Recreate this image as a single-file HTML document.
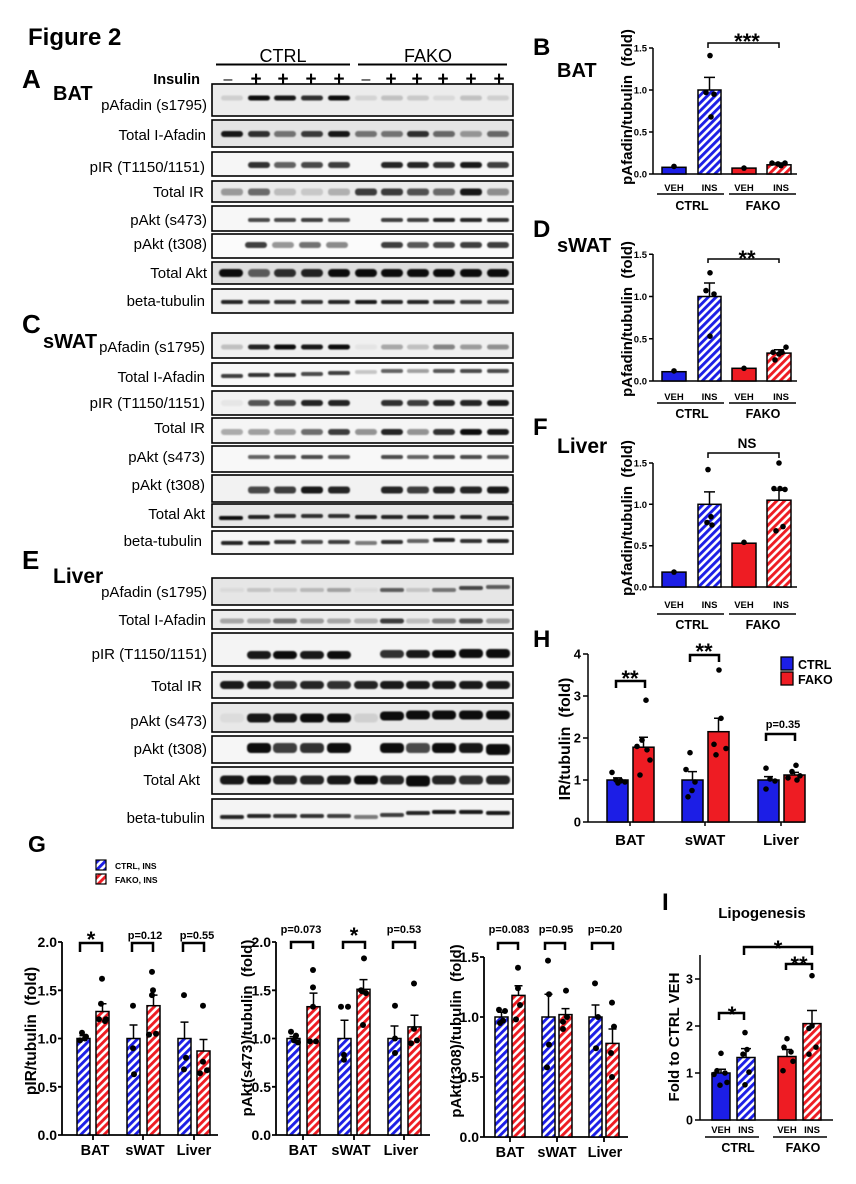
<!DOCTYPE html>
<html><head><meta charset="utf-8"><style>
html,body{margin:0;padding:0;background:#fff}
svg{display:block}
text{font-family:"Liberation Sans",Arial,sans-serif}
.b{font-weight:bold}
.l{font-size:15px;text-anchor:end}
.m{text-anchor:middle}
.e{text-anchor:end}
</style></head><body>
<svg width="856" height="1184" viewBox="0 0 856 1184" xmlns="http://www.w3.org/2000/svg">
<defs>
<pattern id="hb" patternUnits="userSpaceOnUse" width="5.5" height="5.5" patternTransform="rotate(45)"><rect width="5.5" height="5.5" fill="#fff"/><rect width="2.9" height="5.5" fill="#1c1ee6"/></pattern>
<pattern id="hr" patternUnits="userSpaceOnUse" width="5.5" height="5.5" patternTransform="rotate(45)"><rect width="5.5" height="5.5" fill="#fff"/><rect width="2.9" height="5.5" fill="#ee1c23"/></pattern>
<filter id="bl" x="-20%" y="-100%" width="140%" height="300%"><feGaussianBlur stdDeviation="0.9"/></filter>
</defs>
<rect width="856" height="1184" fill="#fff"/>

<!-- Header -->
<text x="28" y="45" class="b" font-size="24">Figure 2</text>
<text x="283" y="62" class="m" font-size="18">CTRL</text>
<text x="428" y="62" class="m" font-size="18">FAKO</text>
<path d="M216 64.5H350M358 64.5H507" stroke="#000" stroke-width="2"/>
<text x="200" y="84" class="b e" font-size="14.5">Insulin</text>
<g class="b m" font-size="19">
<text x="256" y="85">+</text><text x="283" y="85">+</text><text x="311" y="85">+</text><text x="339" y="85">+</text>
<text x="391" y="85">+</text><text x="417" y="85">+</text><text x="443" y="85">+</text><text x="471" y="85">+</text><text x="499" y="85">+</text>
</g>
<g class="m" font-size="16"><text x="228" y="84">–</text><text x="366" y="84">–</text></g>

<text x="22" y="88" class="b" font-size="26">A</text>
<text x="53" y="100" class="b" font-size="20">BAT</text>
<text x="22" y="333" class="b" font-size="26">C</text>
<text x="43" y="348" class="b" font-size="20">sWAT</text>
<text x="22" y="569" class="b" font-size="26">E</text>
<text x="53" y="583" class="b" font-size="21">Liver</text>

<!-- Blot boxes -->
<g stroke="#000" stroke-width="1.6">
<rect x="212" y="84" width="301" height="32" fill="#ececec"/>
<rect x="212" y="120" width="301" height="27" fill="#e4e4e4"/>
<rect x="212" y="152" width="301" height="24" fill="#f6f6f6"/>
<rect x="212" y="181" width="301" height="21" fill="#ebebeb"/>
<rect x="212" y="206" width="301" height="25" fill="#f7f7f7"/>
<rect x="212" y="234" width="301" height="24" fill="#fbfbfb"/>
<rect x="212" y="262" width="301" height="22" fill="#dedede"/>
<rect x="212" y="289" width="301" height="24" fill="#f2f2f2"/>

<rect x="212" y="333" width="301" height="25" fill="#f0f0f0"/>
<rect x="212" y="363" width="301" height="23" fill="#f8f8f8"/>
<rect x="212" y="391" width="301" height="24" fill="#f2f2f2"/>
<rect x="212" y="418" width="301" height="25" fill="#f5f5f5"/>
<rect x="212" y="446" width="301" height="26" fill="#f8f8f8"/>
<rect x="212" y="475" width="301" height="27" fill="#f2f2f2"/>
<rect x="212" y="504" width="301" height="23" fill="#e8e8e8"/>
<rect x="212" y="531" width="301" height="23" fill="#f6f6f6"/>

<rect x="212" y="578" width="301" height="27" fill="#e6e6e6"/>
<rect x="212" y="610" width="301" height="19" fill="#ececec"/>
<rect x="212" y="633" width="301" height="33" fill="#f4f4f4"/>
<rect x="212" y="672" width="301" height="26" fill="#f2f2f2"/>
<rect x="212" y="703" width="301" height="29" fill="#e8e8e8"/>
<rect x="212" y="736" width="301" height="27" fill="#f6f6f6"/>
<rect x="212" y="767" width="301" height="27" fill="#f2f2f2"/>
<rect x="212" y="799" width="301" height="29" fill="#f4f4f4"/>
</g>

<!-- Bands -->
<g fill="#000" filter="url(#bl)">
<g transform="translate(0,95.5)">
<rect x="221" width="22" height="5" rx="2.5" opacity=".12"/><rect x="248" width="22" height="5" rx="2.5" opacity=".95"/><rect x="274" width="22" height="5" rx="2.5" opacity=".9"/><rect x="301" width="22" height="5" rx="2.5" opacity=".8"/><rect x="328" width="22" height="5" rx="2.5" opacity=".95"/><rect x="355" width="22" height="5" rx="2.5" opacity=".1"/><rect x="381" width="22" height="5" rx="2.5" opacity=".18"/><rect x="407" width="22" height="5" rx="2.5" opacity=".15"/><rect x="433" width="22" height="5" rx="2.5" opacity=".08"/><rect x="460" width="22" height="5" rx="2.5" opacity=".18"/><rect x="487" width="22" height="5" rx="2.5" opacity=".12"/></g>
<g transform="translate(0,131)">
<rect x="221" width="22" height="6" rx="3" opacity=".9"/><rect x="248" width="22" height="6" rx="3" opacity=".8"/><rect x="274" width="22" height="6" rx="3" opacity=".5"/><rect x="301" width="22" height="6" rx="3" opacity=".75"/><rect x="328" width="22" height="6" rx="3" opacity=".9"/><rect x="355" width="22" height="6" rx="3" opacity=".5"/><rect x="381" width="22" height="6" rx="3" opacity=".5"/><rect x="407" width="22" height="6" rx="3" opacity=".8"/><rect x="433" width="22" height="6" rx="3" opacity=".55"/><rect x="460" width="22" height="6" rx="3" opacity=".35"/><rect x="487" width="22" height="6" rx="3" opacity=".55"/></g>
<g transform="translate(0,162)">
<rect x="248" width="22" height="6" rx="3" opacity=".8"/><rect x="274" width="22" height="6" rx="3" opacity=".6"/><rect x="301" width="22" height="6" rx="3" opacity=".7"/><rect x="328" width="22" height="6" rx="3" opacity=".75"/><rect x="381" width="22" height="6" rx="3" opacity=".85"/><rect x="407" width="22" height="6" rx="3" opacity=".85"/><rect x="433" width="22" height="6" rx="3" opacity=".8"/><rect x="460" width="22" height="6" rx="3" opacity=".9"/><rect x="487" width="22" height="6" rx="3" opacity=".75"/></g>
<g transform="translate(0,188.5)">
<rect x="221" width="22" height="7" rx="3" opacity=".35"/><rect x="248" width="22" height="7" rx="3" opacity=".55"/><rect x="274" width="22" height="7" rx="3" opacity=".2"/><rect x="301" width="22" height="7" rx="3" opacity=".15"/><rect x="328" width="22" height="7" rx="3" opacity=".25"/><rect x="355" width="22" height="7" rx="3" opacity=".75"/><rect x="381" width="22" height="7" rx="3" opacity=".75"/><rect x="407" width="22" height="7" rx="3" opacity=".65"/><rect x="433" width="22" height="7" rx="3" opacity=".55"/><rect x="460" width="22" height="7" rx="3" opacity=".9"/><rect x="487" width="22" height="7" rx="3" opacity=".4"/></g>
<g transform="translate(0,218)">
<rect x="248" width="22" height="4" rx="2" opacity=".7"/><rect x="274" width="22" height="4" rx="2" opacity=".7"/><rect x="301" width="22" height="4" rx="2" opacity=".75"/><rect x="328" width="22" height="4" rx="2" opacity=".65"/><rect x="381" width="22" height="4" rx="2" opacity=".75"/><rect x="407" width="22" height="4" rx="2" opacity=".75"/><rect x="433" width="22" height="4" rx="2" opacity=".85"/><rect x="460" width="22" height="4" rx="2" opacity=".85"/><rect x="487" width="22" height="4" rx="2" opacity=".8"/></g>
<g transform="translate(0,242)">
<rect x="245" width="22" height="6" rx="3" opacity=".75"/><rect x="272" width="22" height="6" rx="3" opacity=".4"/><rect x="299" width="22" height="6" rx="3" opacity=".55"/><rect x="326" width="22" height="6" rx="3" opacity=".45"/><rect x="381" width="22" height="6" rx="3" opacity=".75"/><rect x="407" width="22" height="6" rx="3" opacity=".65"/><rect x="433" width="22" height="6" rx="3" opacity=".7"/><rect x="460" width="22" height="6" rx="3" opacity=".75"/><rect x="487" width="22" height="6" rx="3" opacity=".75"/></g>
<g transform="translate(0,269)">
<rect x="219" width="24" height="8" rx="4" opacity=".95"/><rect x="248" width="22" height="8" rx="4" opacity=".6"/><rect x="274" width="22" height="8" rx="4" opacity=".8"/><rect x="301" width="22" height="8" rx="4" opacity=".85"/><rect x="328" width="22" height="8" rx="4" opacity=".95"/><rect x="355" width="22" height="8" rx="4" opacity=".95"/><rect x="381" width="22" height="8" rx="4" opacity=".95"/><rect x="407" width="22" height="8" rx="4" opacity=".95"/><rect x="433" width="22" height="8" rx="4" opacity=".95"/><rect x="460" width="22" height="8" rx="4" opacity=".95"/><rect x="487" width="22" height="8" rx="4" opacity=".95"/></g>
<g transform="translate(0,300)">
<rect x="221" width="22" height="4" rx="2" opacity=".85"/><rect x="248" width="22" height="4" rx="2" opacity=".8"/><rect x="274" width="22" height="4" rx="2" opacity=".8"/><rect x="301" width="22" height="4" rx="2" opacity=".8"/><rect x="328" width="22" height="4" rx="2" opacity=".85"/><rect x="355" width="22" height="4" rx="2" opacity=".9"/><rect x="381" width="22" height="4" rx="2" opacity=".85"/><rect x="407" width="22" height="4" rx="2" opacity=".85"/><rect x="433" width="22" height="4" rx="2" opacity=".8"/><rect x="460" width="22" height="4" rx="2" opacity=".75"/><rect x="487" width="22" height="4" rx="2" opacity=".7"/></g>

<g transform="translate(0,344.5)">
<rect x="221" width="22" height="5" rx="2.5" opacity=".2"/><rect x="248" width="22" height="5" rx="2.5" opacity=".85"/><rect x="274" width="22" height="5" rx="2.5" opacity=".95"/><rect x="301" width="22" height="5" rx="2.5" opacity=".9"/><rect x="328" width="22" height="5" rx="2.5" opacity=".95"/><rect x="355" width="22" height="5" rx="2.5" opacity=".05"/><rect x="381" width="22" height="5" rx="2.5" opacity=".3"/><rect x="407" width="22" height="5" rx="2.5" opacity=".2"/><rect x="433" width="22" height="5" rx="2.5" opacity=".45"/><rect x="460" width="22" height="5" rx="2.5" opacity=".35"/><rect x="487" width="22" height="5" rx="2.5" opacity=".4"/></g>
<g transform="translate(0,372)">
<rect x="221" width="22" height="4" rx="2" opacity=".75" y="2"/><rect x="248" width="22" height="4" rx="2" opacity=".8" y="1"/><rect x="274" width="22" height="4" rx="2" opacity=".8" y="1"/><rect x="301" width="22" height="4" rx="2" opacity=".7"/><rect x="328" width="22" height="4" rx="2" opacity=".75" y="-1"/><rect x="355" width="22" height="4" rx="2" opacity=".2" y="-2"/><rect x="381" width="22" height="4" rx="2" opacity=".6" y="-3"/><rect x="407" width="22" height="4" rx="2" opacity=".35" y="-3"/><rect x="433" width="22" height="4" rx="2" opacity=".65" y="-3"/><rect x="460" width="22" height="4" rx="2" opacity=".7" y="-3"/><rect x="487" width="22" height="4" rx="2" opacity=".7" y="-3"/></g>
<g transform="translate(0,400)">
<rect x="221" width="22" height="6" rx="3" opacity=".05"/><rect x="248" width="22" height="6" rx="3" opacity=".65"/><rect x="274" width="22" height="6" rx="3" opacity=".7"/><rect x="301" width="22" height="6" rx="3" opacity=".85"/><rect x="328" width="22" height="6" rx="3" opacity=".85"/><rect x="381" width="22" height="6" rx="3" opacity=".8"/><rect x="407" width="22" height="6" rx="3" opacity=".75"/><rect x="433" width="22" height="6" rx="3" opacity=".85"/><rect x="460" width="22" height="6" rx="3" opacity=".85"/><rect x="487" width="22" height="6" rx="3" opacity=".9"/></g>
<g transform="translate(0,429)">
<rect x="221" width="22" height="6" rx="3" opacity=".3"/><rect x="248" width="22" height="6" rx="3" opacity=".35"/><rect x="274" width="22" height="6" rx="3" opacity=".35"/><rect x="301" width="22" height="6" rx="3" opacity=".55"/><rect x="328" width="22" height="6" rx="3" opacity=".75"/><rect x="355" width="22" height="6" rx="3" opacity=".4"/><rect x="381" width="22" height="6" rx="3" opacity=".85"/><rect x="407" width="22" height="6" rx="3" opacity=".4"/><rect x="433" width="22" height="6" rx="3" opacity=".8"/><rect x="460" width="22" height="6" rx="3" opacity=".95"/><rect x="487" width="22" height="6" rx="3" opacity=".9"/></g>
<g transform="translate(0,455)">
<rect x="248" width="22" height="4" rx="2" opacity=".6"/><rect x="274" width="22" height="4" rx="2" opacity=".65"/><rect x="301" width="22" height="4" rx="2" opacity=".7"/><rect x="328" width="22" height="4" rx="2" opacity=".65"/><rect x="381" width="22" height="4" rx="2" opacity=".7"/><rect x="407" width="22" height="4" rx="2" opacity=".6"/><rect x="433" width="22" height="4" rx="2" opacity=".7"/><rect x="460" width="22" height="4" rx="2" opacity=".7"/><rect x="487" width="22" height="4" rx="2" opacity=".65"/></g>
<g transform="translate(0,486.5)">
<rect x="248" width="22" height="7" rx="3" opacity=".7"/><rect x="274" width="22" height="7" rx="3" opacity=".75"/><rect x="301" width="22" height="7" rx="3" opacity=".9"/><rect x="328" width="22" height="7" rx="3" opacity=".85"/><rect x="381" width="22" height="7" rx="3" opacity=".85"/><rect x="407" width="22" height="7" rx="3" opacity=".75"/><rect x="433" width="22" height="7" rx="3" opacity=".85"/><rect x="460" width="22" height="7" rx="3" opacity=".85"/><rect x="487" width="22" height="7" rx="3" opacity=".9"/></g>
<g transform="translate(0,515)">
<rect x="219" width="24" height="4" rx="2" opacity=".95" y="1"/><rect x="248" width="22" height="4" rx="2" opacity=".85"/><rect x="274" width="22" height="4" rx="2" opacity=".8" y="-1"/><rect x="301" width="22" height="4" rx="2" opacity=".8" y="-1"/><rect x="328" width="22" height="4" rx="2" opacity=".8" y="-1"/><rect x="355" width="22" height="4" rx="2" opacity=".85"/><rect x="381" width="22" height="4" rx="2" opacity=".85"/><rect x="407" width="22" height="4" rx="2" opacity=".85"/><rect x="433" width="22" height="4" rx="2" opacity=".85"/><rect x="460" width="22" height="4" rx="2" opacity=".85"/><rect x="487" width="22" height="4" rx="2" opacity=".85" y="1"/></g>
<g transform="translate(0,540)">
<rect x="221" width="22" height="4" rx="2" opacity=".85" y="1"/><rect x="248" width="22" height="4" rx="2" opacity=".85" y="1"/><rect x="274" width="22" height="4" rx="2" opacity=".8"/><rect x="301" width="22" height="4" rx="2" opacity=".7"/><rect x="328" width="22" height="4" rx="2" opacity=".75"/><rect x="355" width="22" height="4" rx="2" opacity=".5" y="1"/><rect x="381" width="22" height="4" rx="2" opacity=".8"/><rect x="407" width="22" height="4" rx="2" opacity=".6" y="-1"/><rect x="433" width="22" height="4" rx="2" opacity=".85" y="-2"/><rect x="460" width="22" height="4" rx="2" opacity=".8" y="-1"/><rect x="487" width="22" height="4" rx="2" opacity=".85" y="-1"/></g>

<g transform="translate(0,588)">
<rect x="220" width="24" height="4" rx="2" opacity=".05"/><rect x="247" width="24" height="4" rx="2" opacity=".15"/><rect x="273" width="24" height="4" rx="2" opacity=".12"/><rect x="300" width="24" height="4" rx="2" opacity=".2"/><rect x="327" width="24" height="4" rx="2" opacity=".3"/><rect x="354" width="24" height="4" rx="2" opacity=".05"/><rect x="380" width="24" height="4" rx="2" opacity=".6"/><rect x="406" width="24" height="4" rx="2" opacity=".15"/><rect x="432" width="24" height="4" rx="2" opacity=".5"/><rect x="459" width="24" height="4" rx="2" opacity=".7" y="-2"/><rect x="486" width="24" height="4" rx="2" opacity=".6" y="-3"/></g>
<g transform="translate(0,618.5)">
<rect x="220" width="24" height="5" rx="2.5" opacity=".3"/><rect x="247" width="24" height="5" rx="2.5" opacity=".3"/><rect x="273" width="24" height="5" rx="2.5" opacity=".5"/><rect x="300" width="24" height="5" rx="2.5" opacity=".35"/><rect x="327" width="24" height="5" rx="2.5" opacity=".3"/><rect x="354" width="24" height="5" rx="2.5" opacity=".25"/><rect x="380" width="24" height="5" rx="2.5" opacity=".75"/><rect x="406" width="24" height="5" rx="2.5" opacity=".2"/><rect x="432" width="24" height="5" rx="2.5" opacity=".45"/><rect x="459" width="24" height="5" rx="2.5" opacity=".65"/><rect x="486" width="24" height="5" rx="2.5" opacity=".35"/></g>
<g transform="translate(0,651)">
<rect x="247" width="24" height="8" rx="4" opacity=".9"/><rect x="273" width="24" height="8" rx="4" opacity=".95"/><rect x="300" width="24" height="8" rx="4" opacity=".9"/><rect x="327" width="24" height="8" rx="4" opacity=".95"/><rect x="380" width="24" height="8" rx="4" opacity=".8" y="-1"/><rect x="406" width="24" height="8" rx="4" opacity=".9" y="-1"/><rect x="432" width="24" height="8" rx="4" opacity=".95" y="-1"/><rect x="459" width="24" height="9" rx="4" opacity=".95" y="-2"/><rect x="486" width="24" height="9" rx="4" opacity=".95" y="-2"/></g>
<g transform="translate(0,681)">
<rect x="220" width="24" height="8" rx="4" opacity=".9"/><rect x="247" width="24" height="8" rx="4" opacity=".9"/><rect x="273" width="24" height="8" rx="4" opacity=".8"/><rect x="300" width="24" height="8" rx="4" opacity=".85"/><rect x="327" width="24" height="8" rx="4" opacity=".8"/><rect x="354" width="24" height="8" rx="4" opacity=".85"/><rect x="380" width="24" height="8" rx="4" opacity=".9"/><rect x="406" width="24" height="8" rx="4" opacity=".9"/><rect x="432" width="24" height="8" rx="4" opacity=".9"/><rect x="459" width="24" height="8" rx="4" opacity=".9"/><rect x="486" width="24" height="8" rx="4" opacity=".9"/></g>
<g transform="translate(0,713.5)">
<rect x="220" width="24" height="9" rx="4" opacity=".05"/><rect x="247" width="24" height="9" rx="4" opacity=".9"/><rect x="273" width="24" height="9" rx="4" opacity=".9"/><rect x="300" width="24" height="9" rx="4" opacity=".95"/><rect x="327" width="24" height="9" rx="4" opacity=".95"/><rect x="354" width="24" height="9" rx="4" opacity=".1"/><rect x="380" width="24" height="9" rx="4" opacity=".95" y="-2"/><rect x="406" width="24" height="9" rx="4" opacity=".95" y="-3"/><rect x="432" width="24" height="9" rx="4" opacity=".95" y="-3"/><rect x="459" width="24" height="9" rx="4" opacity=".95" y="-3"/><rect x="486" width="24" height="9" rx="4" opacity=".95" y="-3"/></g>
<g transform="translate(0,743)">
<rect x="247" width="24" height="10" rx="4" opacity=".95"/><rect x="273" width="24" height="10" rx="4" opacity=".75"/><rect x="300" width="24" height="10" rx="4" opacity=".8"/><rect x="327" width="24" height="10" rx="4" opacity=".95"/><rect x="380" width="24" height="10" rx="4" opacity=".95"/><rect x="406" width="24" height="10" rx="4" opacity=".7"/><rect x="432" width="24" height="10" rx="4" opacity=".95"/><rect x="459" width="24" height="10" rx="4" opacity=".9"/><rect x="486" width="24" height="11" rx="4" opacity=".95" y="1"/></g>
<g transform="translate(0,775.5)">
<rect x="220" width="24" height="9" rx="4" opacity=".9"/><rect x="247" width="24" height="9" rx="4" opacity=".95"/><rect x="273" width="24" height="9" rx="4" opacity=".85"/><rect x="300" width="24" height="9" rx="4" opacity=".85"/><rect x="327" width="24" height="9" rx="4" opacity=".9"/><rect x="354" width="24" height="9" rx="4" opacity=".95"/><rect x="380" width="24" height="9" rx="4" opacity=".85"/><rect x="406" width="24" height="11" rx="4" opacity=".95"/><rect x="432" width="24" height="9" rx="4" opacity=".85"/><rect x="459" width="24" height="9" rx="4" opacity=".8"/><rect x="486" width="24" height="9" rx="4" opacity=".85"/></g>
<g transform="translate(0,813)">
<rect x="220" width="24" height="4" rx="2" opacity=".85" y="2"/><rect x="247" width="24" height="4" rx="2" opacity=".85" y="1"/><rect x="273" width="24" height="4" rx="2" opacity=".8" y="1"/><rect x="300" width="24" height="4" rx="2" opacity=".8" y="1"/><rect x="327" width="24" height="4" rx="2" opacity=".75" y="1"/><rect x="354" width="24" height="4" rx="2" opacity=".5" y="2"/><rect x="380" width="24" height="4" rx="2" opacity=".75"/><rect x="406" width="24" height="4" rx="2" opacity=".85" y="-2"/><rect x="432" width="24" height="4" rx="2" opacity=".9" y="-3"/><rect x="459" width="24" height="4" rx="2" opacity=".9" y="-3"/><rect x="486" width="24" height="4" rx="2" opacity=".9" y="-2"/></g>
</g>

<!-- Blot labels -->
<g class="l">
<text x="207" y="110">pAfadin (s1795)</text>
<text x="206" y="140">Total I-Afadin</text>
<text x="205" y="172">pIR (T1150/1151)</text>
<text x="204" y="197">Total IR</text>
<text x="207" y="225">pAkt (s473)</text>
<text x="207" y="249">pAkt (t308)</text>
<text x="207" y="278">Total Akt</text>
<text x="205" y="306">beta-tubulin</text>

<text x="205" y="352">pAfadin (s1795)</text>
<text x="205" y="382">Total I-Afadin</text>
<text x="205" y="408">pIR (T1150/1151)</text>
<text x="205" y="433">Total IR</text>
<text x="205" y="462">pAkt (s473)</text>
<text x="205" y="490">pAkt (t308)</text>
<text x="205" y="519">Total Akt</text>
<text x="202" y="546">beta-tubulin</text>

<text x="207" y="597">pAfadin (s1795)</text>
<text x="206" y="625">Total I-Afadin</text>
<text x="207" y="659">pIR (T1150/1151)</text>
<text x="202" y="691">Total IR</text>
<text x="207" y="726">pAkt (s473)</text>
<text x="207" y="754">pAkt (t308)</text>
<text x="200" y="785">Total Akt</text>
<text x="205" y="823">beta-tubulin</text>
</g>

<!-- ===== Panel B ===== -->
<text x="533" y="55" class="b" font-size="24">B</text>
<text x="557" y="77" class="b" font-size="20">BAT</text>
<text transform="translate(632,107) rotate(-90)" class="b m" font-size="15">pAfadin/tubulin&#160;&#160;(fold)</text>
<g stroke="#000" stroke-width="1.5" fill="none">
<path d="M653 48V174H797M649 48H653M649 90H653M649 132H653M649 174H653"/>
</g>
<g class="b e" font-size="9.5"><text x="647" y="51.5">1.5</text><text x="647" y="93.5">1.0</text><text x="647" y="135.5">0.5</text><text x="647" y="177.5">0.0</text></g>
<g stroke="#000" stroke-width="1.5">
<rect x="662" y="167.3" width="24" height="6.7" fill="#1c1ee6"/>
<rect x="698" y="90" width="23" height="84" fill="url(#hb)"/>
<rect x="732" y="168.1" width="24" height="5.9" fill="#ee1c23"/>
<rect x="767" y="164.8" width="24" height="9.2" fill="url(#hr)"/>
<path d="M709.5 90V77.4M704 77.4H715M779 164.8V163M774 163H784" fill="none"/>
<path d="M708 48V43H779V48" fill="none"/>
<path d="M657 194H724M729 194H796" fill="none"/>
</g>
<g fill="#000"><circle cx="674" cy="166.4" r="2.8"/><circle cx="710" cy="55.6" r="2.8"/><circle cx="706" cy="92.5" r="2.8"/><circle cx="714" cy="94.2" r="2.8"/><circle cx="711" cy="116.9" r="2.8"/><circle cx="744" cy="168.1" r="2.8"/><circle cx="772" cy="163.1" r="2.8"/><circle cx="778" cy="163.9" r="2.8"/><circle cx="785" cy="163.1" r="2.8"/><circle cx="781" cy="165.6" r="2.8"/></g>
<text x="747" y="49" class="b m" font-size="22">***</text>
<g class="b m" font-size="9.5"><text x="674" y="191">VEH</text><text x="709.5" y="191">INS</text><text x="744" y="191">VEH</text><text x="781" y="191">INS</text></g>
<g class="b m" font-size="12.5"><text x="692" y="210">CTRL</text><text x="763" y="210">FAKO</text></g>

<!-- ===== Panel D ===== -->
<text x="533" y="237" class="b" font-size="24">D</text>
<text x="557" y="252" class="b" font-size="20">sWAT</text>
<text transform="translate(632,319) rotate(-90)" class="b m" font-size="15">pAfadin/tubulin&#160;&#160;(fold)</text>
<g stroke="#000" stroke-width="1.5" fill="none">
<path d="M653 254V381H797M649 254.3H653M649 296.5H653M649 338.8H653M649 381H653"/>
</g>
<g class="b e" font-size="9.5"><text x="647" y="257.8">1.5</text><text x="647" y="300">1.0</text><text x="647" y="342.3">0.5</text><text x="647" y="384.5">0.0</text></g>
<g stroke="#000" stroke-width="1.5">
<rect x="662" y="371.7" width="24" height="9.3" fill="#1c1ee6"/>
<rect x="698" y="296.5" width="23" height="84.5" fill="url(#hb)"/>
<rect x="732" y="368.3" width="24" height="12.7" fill="#ee1c23"/>
<rect x="767" y="353.1" width="24" height="27.9" fill="url(#hr)"/>
<path d="M709.5 296.5V283M704 283H715M779 353.1V349.7M774 349.7H784" fill="none"/>
<path d="M708 263V259H779V263" fill="none"/>
<path d="M657 403H724M729 403H796" fill="none"/>
</g>
<g fill="#000"><circle cx="674" cy="370.9" r="2.8"/><circle cx="710" cy="272.8" r="2.8"/><circle cx="706" cy="290.6" r="2.8"/><circle cx="714" cy="294" r="2.8"/><circle cx="710" cy="336.2" r="2.8"/><circle cx="744" cy="368.3" r="2.8"/><circle cx="773" cy="352.3" r="2.8"/><circle cx="779" cy="354" r="2.8"/><circle cx="786" cy="347.2" r="2.8"/><circle cx="775" cy="359.9" r="2.8"/><circle cx="782" cy="352.3" r="2.8"/></g>
<text x="747" y="266" class="b m" font-size="22">**</text>
<g class="b m" font-size="9.5"><text x="674" y="400">VEH</text><text x="709.5" y="400">INS</text><text x="744" y="400">VEH</text><text x="781" y="400">INS</text></g>
<g class="b m" font-size="12.5"><text x="692" y="418">CTRL</text><text x="763" y="418">FAKO</text></g>

<!-- ===== Panel F ===== -->
<text x="533" y="435" class="b" font-size="24">F</text>
<text x="557" y="453" class="b" font-size="21">Liver</text>
<text transform="translate(632,518) rotate(-90)" class="b m" font-size="15">pAfadin/tubulin&#160;&#160;(fold)</text>
<g stroke="#000" stroke-width="1.5" fill="none">
<path d="M653 463V587H797M649 463H653M649 504.3H653M649 545.7H653M649 587H653"/>
</g>
<g class="b e" font-size="9.5"><text x="647" y="466.5">1.5</text><text x="647" y="507.8">1.0</text><text x="647" y="549.2">0.5</text><text x="647" y="590.5">0.0</text></g>
<g stroke="#000" stroke-width="1.5">
<rect x="662" y="572.1" width="24" height="14.9" fill="#1c1ee6"/>
<rect x="698" y="504.3" width="23" height="82.7" fill="url(#hb)"/>
<rect x="732" y="543.2" width="24" height="43.8" fill="#ee1c23"/>
<rect x="767" y="500.2" width="24" height="86.8" fill="url(#hr)"/>
<path d="M709.5 504.3V491.9M704 491.9H715M779 500.2V490.2M774 490.2H784" fill="none"/>
<path d="M708 458V453H779V458" fill="none"/>
<path d="M657 614H724M729 614H796" fill="none"/>
</g>
<g fill="#000"><circle cx="674" cy="572.1" r="2.8"/><circle cx="708" cy="469.6" r="2.8"/><circle cx="711" cy="516.7" r="2.8"/><circle cx="707" cy="522.5" r="2.8"/><circle cx="712" cy="525" r="2.8"/><circle cx="744" cy="542.3" r="2.8"/><circle cx="779" cy="463" r="2.8"/><circle cx="774" cy="488.6" r="2.8"/><circle cx="780" cy="488.6" r="2.8"/><circle cx="785" cy="489.4" r="2.8"/><circle cx="776" cy="530.8" r="2.8"/><circle cx="783" cy="526.6" r="2.8"/></g>
<text x="747" y="448" class="b m" font-size="13.5">NS</text>
<g class="b m" font-size="9.5"><text x="674" y="608">VEH</text><text x="709.5" y="608">INS</text><text x="744" y="608">VEH</text><text x="781" y="608">INS</text></g>
<g class="b m" font-size="12.5"><text x="692" y="629">CTRL</text><text x="763" y="629">FAKO</text></g>

<!-- ===== Panel H ===== -->
<text x="533" y="647" class="b" font-size="24">H</text>
<text transform="translate(570,739) rotate(-90)" class="b m" font-size="16">IR/tubulin&#160;&#160;(fold)</text>
<g stroke="#000" stroke-width="1.5" fill="none">
<path d="M588 654V822H805M583 654H588M583 696H588M583 738H588M583 780H588M583 822H588M630 822V826M705 822V826M781 822V826"/>
</g>
<g class="b e" font-size="13"><text x="581" y="658.5">4</text><text x="581" y="700.5">3</text><text x="581" y="742.5">2</text><text x="581" y="784.5">1</text><text x="581" y="826.5">0</text></g>
<g stroke="#000" stroke-width="1.5">
<rect x="607" y="780" width="21" height="42" fill="#1c1ee6"/>
<rect x="633" y="747.2" width="21" height="74.8" fill="#ee1c23"/>
<rect x="682" y="780" width="21" height="42" fill="#1c1ee6"/>
<rect x="708" y="731.7" width="21" height="90.3" fill="#ee1c23"/>
<rect x="758" y="780" width="21" height="42" fill="#1c1ee6"/>
<rect x="784" y="775" width="21" height="47" fill="#ee1c23"/>
<path d="M617.5 780V777.9M613 777.9H622M643.5 747.2V737.2M639 737.2H648M692.5 780V771.6M688 771.6H697M718.5 731.7V718.3M714 718.3H723M768.5 780V776.6M764 776.6H773M794.5 775V772.4M790 772.4H799" fill="none"/>
</g>
<g stroke="#000" stroke-width="2.5" fill="none"><path d="M616 688V681H645V688M690 662V655H719V662M766 741V734H795V741"/></g>
<g fill="#000">
<circle cx="612" cy="772.4" r="2.8"/><circle cx="616" cy="780" r="2.8"/><circle cx="621" cy="780.8" r="2.8"/><circle cx="625" cy="782" r="2.8"/><circle cx="618" cy="783" r="2.8"/>
<circle cx="646" cy="700.2" r="2.8"/><circle cx="642" cy="740.1" r="2.8"/><circle cx="637" cy="746.4" r="2.8"/><circle cx="647" cy="749.8" r="2.8"/><circle cx="650" cy="760" r="2.8"/><circle cx="640" cy="775" r="2.8"/>
<circle cx="690" cy="752.7" r="2.8"/><circle cx="686" cy="769.5" r="2.8"/><circle cx="695" cy="782" r="2.8"/><circle cx="692" cy="790.5" r="2.8"/><circle cx="688" cy="796.8" r="2.8"/>
<circle cx="719" cy="670" r="2.8"/><circle cx="721" cy="718.3" r="2.8"/><circle cx="714" cy="744.3" r="2.8"/><circle cx="726" cy="748.5" r="2.8"/><circle cx="716" cy="754.8" r="2.8"/>
<circle cx="766" cy="768.2" r="2.8"/><circle cx="770" cy="779" r="2.8"/><circle cx="775" cy="781" r="2.8"/><circle cx="766" cy="789" r="2.8"/>
<circle cx="796" cy="765.3" r="2.8"/><circle cx="792" cy="771.6" r="2.8"/><circle cx="800" cy="775.8" r="2.8"/><circle cx="788" cy="777.9" r="2.8"/><circle cx="797" cy="780" r="2.8"/>
</g>
<g class="b m" font-size="22"><text x="630" y="686">**</text><text x="704" y="659">**</text></g>
<text x="783" y="728" class="b m" font-size="11">p=0.35</text>
<rect x="781" y="657" width="12" height="13" fill="#1c1ee6" stroke="#000" stroke-width="1.3"/>
<rect x="781" y="672" width="12" height="13" fill="#ee1c23" stroke="#000" stroke-width="1.3"/>
<g class="b" font-size="12.5"><text x="798" y="669">CTRL</text><text x="798" y="684">FAKO</text></g>
<g class="b m" font-size="15"><text x="630" y="845">BAT</text><text x="705" y="845">sWAT</text><text x="781" y="845">Liver</text></g>

<!-- ===== Panel G ===== -->
<text x="28" y="852" class="b" font-size="23">G</text>
<rect x="96" y="860" width="10" height="10" fill="url(#hb)" stroke="#000" stroke-width="1.2"/>
<rect x="96" y="874" width="10" height="10" fill="url(#hr)" stroke="#000" stroke-width="1.2"/>
<g class="b" font-size="8.5"><text x="115" y="869">CTRL, INS</text><text x="115" y="883">FAKO, INS</text></g>

<!-- G chart 1 -->
<text transform="translate(36,1031) rotate(-90)" class="b m" font-size="15.5">pIR/tubulin&#160;&#160;(fold)</text>
<g stroke="#000" stroke-width="1.8" fill="none"><path d="M62 942V1135H218M58 942H62M58 990.3H62M58 1038.5H62M58 1086.8H62M58 1135H62M93 1135V1140M143 1135V1140M194 1135V1140"/></g>
<g class="b e" font-size="14"><text x="57" y="947">2.0</text><text x="57" y="995.3">1.5</text><text x="57" y="1043.5">1.0</text><text x="57" y="1091.8">0.5</text><text x="57" y="1140">0.0</text></g>
<g stroke="#000" stroke-width="1.5">
<rect x="77" y="1038.5" width="13" height="96.5" fill="url(#hb)"/>
<rect x="96" y="1011.5" width="13" height="123.5" fill="url(#hr)"/>
<rect x="127" y="1038.5" width="13" height="96.5" fill="url(#hb)"/>
<rect x="147" y="1005.7" width="13" height="129.3" fill="url(#hr)"/>
<rect x="178" y="1038.5" width="13" height="96.5" fill="url(#hb)"/>
<rect x="197" y="1051" width="13" height="84" fill="url(#hr)"/>
<path d="M83.5 1038.5V1035.6M79.5 1035.6H87.5M102.5 1011.5V1003.8M98.5 1003.8H106.5M133.5 1038.5V1025M129.5 1025H137.5M153.5 1005.7V995.1M149.5 995.1H157.5M184.5 1038.5V1022.1M180.5 1022.1H188.5M203.5 1051V1039.5M199.5 1039.5H207.5" fill="none"/>
</g>
<g stroke="#000" stroke-width="2.5" fill="none"><path d="M80 952V943H102V952M132 952V943H153V952M183 952V943H204V952"/></g>
<g fill="#000">
<circle cx="82" cy="1032.7" r="3"/><circle cx="86" cy="1036.6" r="3"/><circle cx="80" cy="1040.4" r="3"/><circle cx="85" cy="1038.5" r="3"/>
<circle cx="102" cy="978.7" r="3"/><circle cx="101" cy="1003.8" r="3"/><circle cx="99" cy="1019.2" r="3"/><circle cx="105" cy="1021.1" r="3"/><circle cx="106" cy="1019.2" r="3"/>
<circle cx="133" cy="1005.7" r="3"/><circle cx="133" cy="1048.2" r="3"/><circle cx="134" cy="1074.2" r="3"/>
<circle cx="152" cy="971.9" r="3"/><circle cx="153" cy="990.3" r="3"/><circle cx="152" cy="995.1" r="3"/><circle cx="149" cy="1034.6" r="3"/><circle cx="156" cy="1033.7" r="3"/>
<circle cx="184" cy="995.1" r="3"/><circle cx="186" cy="1057.8" r="3"/><circle cx="184" cy="1069.4" r="3"/>
<circle cx="203" cy="1005.7" r="3"/><circle cx="203" cy="1061.7" r="3"/><circle cx="200" cy="1073.2" r="3"/><circle cx="207" cy="1070.3" r="3"/>
</g>
<text x="91" y="947" class="b m" font-size="22">*</text>
<g class="b m" font-size="11"><text x="145" y="939">p=0.12</text><text x="197" y="939">p=0.55</text></g>
<g class="b m" font-size="14.5"><text x="95" y="1155">BAT</text><text x="145" y="1155">sWAT</text><text x="194" y="1155">Liver</text></g>

<!-- G chart 2 -->
<text transform="translate(252,1028) rotate(-90)" class="b m" font-size="15">pAkt(s473)/tubulin&#160;&#160;(fold)</text>
<g stroke="#000" stroke-width="1.8" fill="none"><path d="M276 942V1135H430M272 942H276M272 990.3H276M272 1038.5H276M272 1086.8H276M272 1135H276M303 1135V1140M354 1135V1140M404 1135V1140"/></g>
<g class="b e" font-size="14"><text x="271" y="947">2.0</text><text x="271" y="995.3">1.5</text><text x="271" y="1043.5">1.0</text><text x="271" y="1091.8">0.5</text><text x="271" y="1140">0.0</text></g>
<g stroke="#000" stroke-width="1.5">
<rect x="287" y="1038.5" width="13" height="96.5" fill="url(#hb)"/>
<rect x="307" y="1006.7" width="13" height="128.3" fill="url(#hr)"/>
<rect x="338" y="1038.5" width="13" height="96.5" fill="url(#hb)"/>
<rect x="357" y="989.3" width="13" height="145.7" fill="url(#hr)"/>
<rect x="388" y="1038.5" width="13" height="96.5" fill="url(#hb)"/>
<rect x="408" y="1026.9" width="13" height="108.1" fill="url(#hr)"/>
<path d="M293.5 1038.5V1036.6M289.5 1036.6H297.5M313.5 1006.7V993.1M309.5 993.1H317.5M344.5 1038.5V1020.2M340.5 1020.2H348.5M363.5 989.3V979.6M359.5 979.6H367.5M394.5 1038.5V1026M390.5 1026H398.5M414.5 1026.9V1015.3M410.5 1015.3H418.5" fill="none"/>
</g>
<g stroke="#000" stroke-width="2.5" fill="none"><path d="M291 949V942H313V949M343 949V942H365V949M393 949V942H415V949"/></g>
<g fill="#000">
<circle cx="291" cy="1031.7" r="3"/><circle cx="296" cy="1035.6" r="3"/><circle cx="294" cy="1040.4" r="3"/><circle cx="298" cy="1042.4" r="3"/>
<circle cx="313" cy="970" r="3"/><circle cx="313" cy="987.4" r="3"/><circle cx="313" cy="1006.7" r="3"/><circle cx="310" cy="1041.4" r="3"/><circle cx="316" cy="1041.4" r="3"/>
<circle cx="341" cy="1006.7" r="3"/><circle cx="348" cy="1006.7" r="3"/><circle cx="344" cy="1054.9" r="3"/><circle cx="344" cy="1059.7" r="3"/>
<circle cx="364" cy="958.4" r="3"/><circle cx="362" cy="991.2" r="3"/><circle cx="366" cy="993.1" r="3"/><circle cx="363" cy="1025" r="3"/><circle cx="361" cy="990.3" r="3"/>
<circle cx="395" cy="1005.7" r="3"/><circle cx="395" cy="1038.5" r="3"/><circle cx="395" cy="1053" r="3"/>
<circle cx="414" cy="983.5" r="3"/><circle cx="414" cy="1028.9" r="3"/><circle cx="411" cy="1043.3" r="3"/><circle cx="417" cy="1040.4" r="3"/>
</g>
<text x="354" y="943" class="b m" font-size="22">*</text>
<g class="b m" font-size="11"><text x="301" y="933">p=0.073</text><text x="404" y="933">p=0.53</text></g>
<g class="b m" font-size="14.5"><text x="303" y="1155">BAT</text><text x="351" y="1155">sWAT</text><text x="401" y="1155">Liver</text></g>

<!-- G chart 3 -->
<text transform="translate(461,1031) rotate(-90)" class="b m" font-size="15">pAkt(t308)/tubulin&#160;&#160;(fold)</text>
<g stroke="#000" stroke-width="1.8" fill="none"><path d="M484 957V1137H628M480 957H484M480 1017H484M480 1077H484M480 1137H484M510 1137V1142M557 1137V1142M604 1137V1142"/></g>
<g class="b e" font-size="14"><text x="479" y="962">1.5</text><text x="479" y="1022">1.0</text><text x="479" y="1082">0.5</text><text x="479" y="1142">0.0</text></g>
<g stroke="#000" stroke-width="1.5">
<rect x="495" y="1017" width="13" height="120" fill="url(#hb)"/>
<rect x="512" y="995.4" width="13" height="141.6" fill="url(#hr)"/>
<rect x="542" y="1017" width="13" height="120" fill="url(#hb)"/>
<rect x="559" y="1014.6" width="13" height="122.4" fill="url(#hr)"/>
<rect x="589" y="1017" width="13" height="120" fill="url(#hb)"/>
<rect x="606" y="1043.4" width="13" height="93.6" fill="url(#hr)"/>
<path d="M501.5 1017V1012.2M497.5 1012.2H505.5M518.5 995.4V985.8M514.5 985.8H522.5M548.5 1017V994.2M544.5 994.2H552.5M565.5 1014.6V1008.6M561.5 1008.6H569.5M595.5 1017V1005M591.5 1005H599.5M612.5 1043.4V1029M608.5 1029H616.5" fill="none"/>
</g>
<g stroke="#000" stroke-width="2.5" fill="none"><path d="M498 950V943H518V950M545 950V943H565V950M592 950V943H613V950"/></g>
<g fill="#000">
<circle cx="499" cy="1009.8" r="3"/><circle cx="505" cy="1011" r="3"/><circle cx="503" cy="1020.6" r="3"/><circle cx="500" cy="1023" r="3"/>
<circle cx="518" cy="967.8" r="3"/><circle cx="518" cy="988.2" r="3"/><circle cx="520" cy="1005" r="3"/><circle cx="516" cy="1019.4" r="3"/>
<circle cx="548" cy="960.6" r="3"/><circle cx="549" cy="994.2" r="3"/><circle cx="549" cy="1044.6" r="3"/><circle cx="547" cy="1067.4" r="3"/>
<circle cx="566" cy="990.6" r="3"/><circle cx="567" cy="1017" r="3"/><circle cx="563" cy="1021.8" r="3"/><circle cx="563" cy="1029" r="3"/>
<circle cx="595" cy="983.4" r="3"/><circle cx="598" cy="1017" r="3"/><circle cx="596" cy="1048.2" r="3"/>
<circle cx="612" cy="1002.6" r="3"/><circle cx="614" cy="1026.6" r="3"/><circle cx="611" cy="1053" r="3"/><circle cx="612" cy="1077" r="3"/>
</g>
<g class="b m" font-size="11"><text x="509" y="933">p=0.083</text><text x="556" y="933">p=0.95</text><text x="605" y="933">p=0.20</text></g>
<g class="b m" font-size="14.5"><text x="510" y="1157">BAT</text><text x="557" y="1157">sWAT</text><text x="605" y="1157">Liver</text></g>

<!-- ===== Panel I ===== -->
<text x="662" y="910" class="b" font-size="24">I</text>
<text x="762" y="918" class="b m" font-size="15">Lipogenesis</text>
<text transform="translate(679,1037) rotate(-90)" class="b m" font-size="15">Fold to CTRL VEH</text>
<g stroke="#000" stroke-width="1.5" fill="none"><path d="M700 955V1120H833M695 979H700M695 1026H700M695 1073H700M695 1120H700"/></g>
<g class="b e" font-size="12.5"><text x="693" y="983.5">3</text><text x="693" y="1030.5">2</text><text x="693" y="1077.5">1</text><text x="693" y="1124.5">0</text></g>
<g stroke="#000" stroke-width="1.5">
<rect x="712" y="1073" width="18" height="47" fill="#1c1ee6"/>
<rect x="737" y="1057.5" width="18" height="62.5" fill="url(#hb)"/>
<rect x="778" y="1056.5" width="18" height="63.5" fill="#ee1c23"/>
<rect x="803" y="1023.6" width="18" height="96.4" fill="url(#hr)"/>
<path d="M721 1073V1069.2M716 1069.2H726M746 1057.5V1048.6M741 1048.6H751M787 1056.5V1049.5M782 1049.5H792M812 1023.6V1010.5M807 1010.5H817" fill="none"/>
<path d="M705 1137H759M773 1137H827" fill="none"/>
</g>
<g stroke="#000" stroke-width="2.5" fill="none"><path d="M719 1020V1013H744V1020M786 970V964H812V970M744 955V947H812V955"/></g>
<g fill="#000">
<circle cx="721" cy="1053.3" r="2.8"/><circle cx="717" cy="1070.7" r="2.8"/><circle cx="725" cy="1073" r="2.8"/><circle cx="714" cy="1074.4" r="2.8"/><circle cx="727" cy="1082.4" r="2.8"/><circle cx="720" cy="1085.2" r="2.8"/>
<circle cx="745" cy="1032.6" r="2.8"/><circle cx="747" cy="1049.5" r="2.8"/><circle cx="743" cy="1054.2" r="2.8"/><circle cx="749" cy="1072.1" r="2.8"/><circle cx="745" cy="1084.8" r="2.8"/>
<circle cx="787" cy="1038.7" r="2.8"/><circle cx="784" cy="1047.2" r="2.8"/><circle cx="791" cy="1051.9" r="2.8"/><circle cx="793" cy="1061.3" r="2.8"/><circle cx="783" cy="1070.7" r="2.8"/>
<circle cx="812" cy="975.7" r="2.8"/><circle cx="812" cy="1026" r="2.8"/><circle cx="809" cy="1028.4" r="2.8"/><circle cx="816" cy="1047.2" r="2.8"/><circle cx="809" cy="1054.2" r="2.8"/>
</g>
<g class="b m" font-size="22"><text x="732" y="1022">*</text><text x="799" y="972">**</text><text x="778" y="956">*</text></g>
<g class="b m" font-size="9.5"><text x="721" y="1133">VEH</text><text x="746" y="1133">INS</text><text x="787" y="1133">VEH</text><text x="812" y="1133">INS</text></g>
<g class="b m" font-size="12.5"><text x="738" y="1152">CTRL</text><text x="803" y="1152">FAKO</text></g>
</svg>
</body></html>
